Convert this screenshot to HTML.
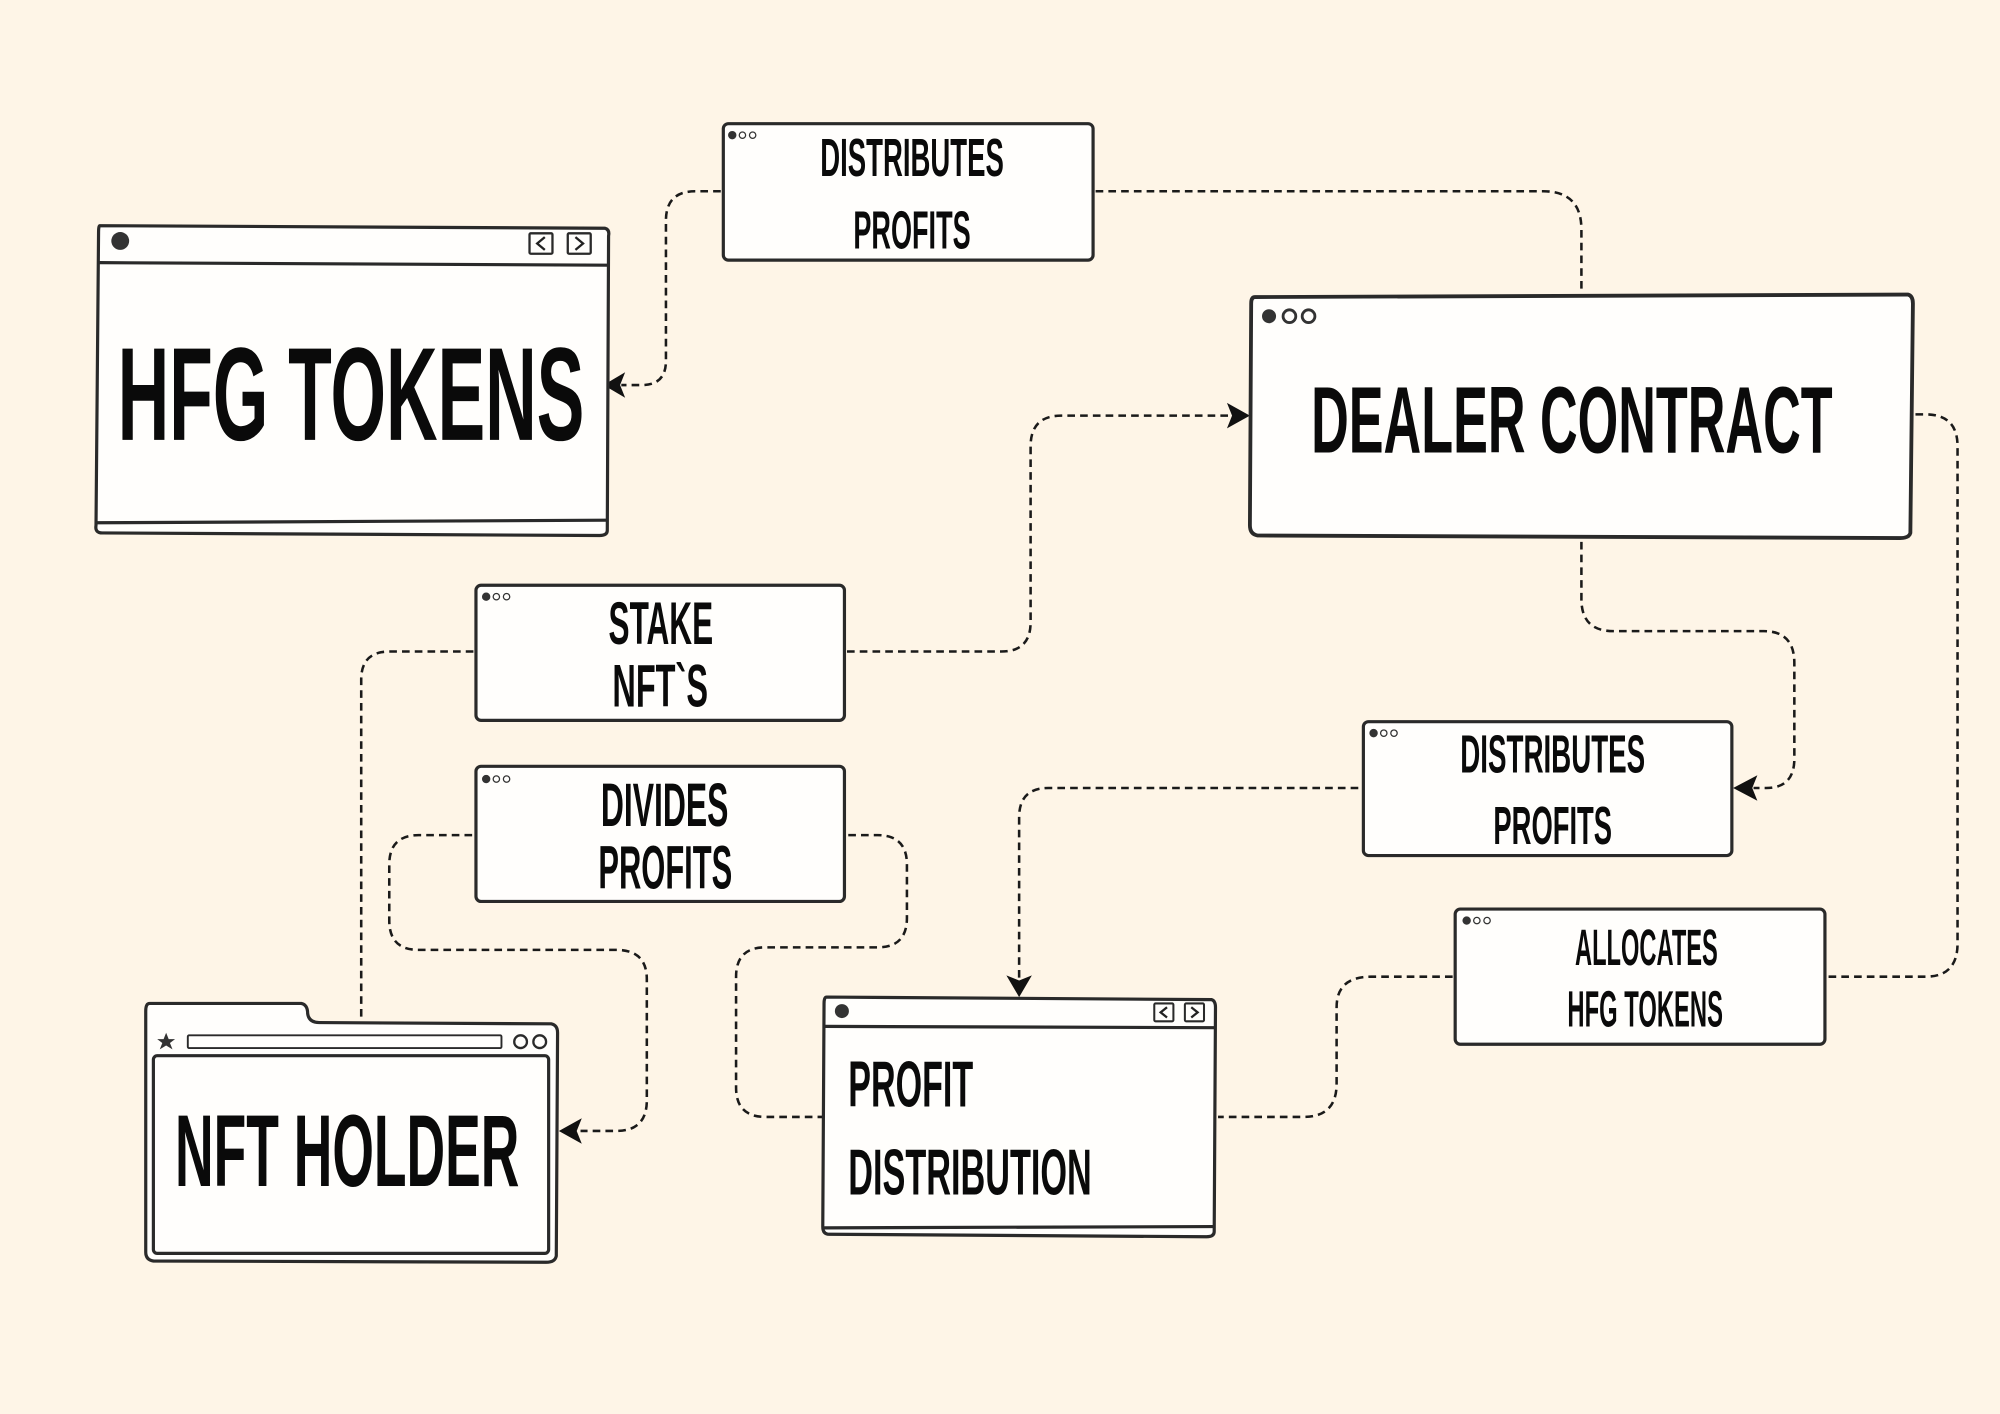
<!DOCTYPE html>
<html><head><meta charset="utf-8"><style>
html,body{margin:0;padding:0;background:#fef5e7;}
svg{display:block}
text{font-family:"Liberation Sans Narrow","Liberation Sans",sans-serif;font-weight:bold;fill:#0a0a0a}
</style></head><body>
<svg width="2000" height="1414" viewBox="0 0 1568 1109" xmlns="http://www.w3.org/2000/svg">
<rect width="1568" height="1109" fill="#fef5e7"/>
<g fill="none" stroke="#1a1a1a" stroke-width="2" stroke-dasharray="6,4">
<path d="M565,150 H545 Q522,150 522,173 V283 Q522,302 503,302 H487"/>
<path d="M859,150 H1210 Q1240,150 1240,180 V228"/>
<path d="M664,511 H785 Q808,511 808,488 V350 Q808,326 832,326 H966"/>
<path d="M371,511 H305 Q283,511 283,533 V801"/>
<path d="M1240,425 V470 Q1240,495 1265,495 H1383 Q1407,495 1407,520 V595 Q1407,618 1385,618 H1375"/>
<path d="M1502,325 H1510 Q1535,325 1535,350 V740 Q1535,766 1510,766 H1433"/>
<path d="M1065,618 H822 Q799,618 799,641 V768"/>
<path d="M1139,766 H1075 Q1048,766 1048,790 V850 Q1048,876 1022,876 H955"/>
<path d="M370,655 H328 Q305,655 305,678 V722 Q305,745 328,745 H483 Q507,745 507,768 V863 Q507,887 483,887 H455"/>
<path d="M665,655 H688 Q711,655 711,678 V720 Q711,743 688,743 H600 Q577,743 577,766 V853 Q577,876 600,876 H645"/>
</g>
<g fill="#111">
<path d="M473,302 L490,292 L486,302 L490,312 Z"/>
<path d="M980,326 L962,316 L966,326 L962,336 Z"/>
<path d="M1359,618 L1378,608 L1374,618 L1378,628 Z"/>
<path d="M799,782 L789,765 L799,769 L809,765 Z"/>
<path d="M438,887 L456,877 L452,887 L456,897 Z"/>
</g>
<g stroke="#2a2a2a" stroke-width="2.5" fill="#fffefc">
<!-- HFG TOKENS -->
<path d="M78,177 L474,179 Q478,180 477,185 L476,416 Q476,420 470,420 L80,418 Q74,418 75,412 L77,182 Q77,177 78,177 Z"/>
<path d="M77,206 L476,208 M76,410 L476,408" fill="none"/>
<!-- DEALER -->
<path d="M984,233 L1496,231 Q1500,232 1500,238 L1498,418 Q1497,422 1490,422 L986,420 Q980,419 980,412 L981,238 Q981,233 984,233 Z" stroke-width="3"/>
<!-- labels -->
<rect x="567" y="97" width="290" height="107" rx="4"/>
<rect x="373" y="459" width="289" height="106" rx="4"/>
<rect x="373" y="601" width="289" height="106" rx="4"/>
<rect x="1069" y="566" width="289" height="105" rx="4"/>
<rect x="1141" y="713" width="290" height="106" rx="4"/>
<!-- NFT holder -->
<path d="M117,787 L236,787 Q241,788 241,795 Q242,802 250,802 L432,803 Q437,804 437,810 L436,985 Q435,990 428,990 L120,989 Q114,988 114,982 L114,793 Q114,787 117,787 Z"/>
<rect x="120" y="828" width="310" height="155" rx="3"/>
<rect x="147" y="812" width="246" height="10" rx="1" stroke-width="1.5"/>
<circle cx="408" cy="817" r="5" stroke-width="1.8"/>
<circle cx="423" cy="817" r="5" stroke-width="1.8"/>
<!-- profit distribution -->
<path d="M648,782 L950,784 Q953,785 953,790 L952,966 Q952,970 946,970 L650,968 Q645,968 645,962 L646,787 Q646,782 648,782 Z"/>
<path d="M646,805 L953,806 M646,963 L952,962" fill="none"/>
<rect x="415" y="183" width="18" height="16" rx="1" stroke-width="1.8"/>
<rect x="445" y="183" width="18" height="16" rx="1" stroke-width="1.8"/>
<rect x="905" y="787" width="15" height="14" rx="1" stroke-width="1.6"/>
<rect x="929" y="787" width="15" height="14" rx="1" stroke-width="1.6"/>
</g>
<g fill="none" stroke="#222" stroke-width="1.8">
<path d="M427,186 L421,191 L427,196 M451,186 L457,191 L451,196"/>
<path d="M915,790 L910,794 L915,798 M934,790 L939,794 L934,798"/>
</g>
<g fill="#333">
<circle cx="94" cy="189" r="7"/>
<circle cx="660" cy="793" r="5.5"/>
<circle cx="995" cy="248" r="5.5"/>
<path d="M130,810 L132,815 L137,815 L133,818 L135,823 L130,820 L125,823 L127,818 L123,815 L128,815 Z"/>
</g>
<g fill="none" stroke="#333" stroke-width="2.2">
<circle cx="1011" cy="248" r="5"/><circle cx="1026" cy="248" r="5"/>
</g>
<g fill="#333" stroke="#333" stroke-width="1">
<circle cx="574" cy="106" r="2.8"/><circle cx="582" cy="106" r="2.5" fill="none"/><circle cx="590" cy="106" r="2.5" fill="none"/>
<circle cx="381" cy="468" r="2.8"/><circle cx="389" cy="468" r="2.5" fill="none"/><circle cx="397" cy="468" r="2.5" fill="none"/>
<circle cx="381" cy="611" r="2.8"/><circle cx="389" cy="611" r="2.5" fill="none"/><circle cx="397" cy="611" r="2.5" fill="none"/>
<circle cx="1077" cy="575" r="2.8"/><circle cx="1085" cy="575" r="2.5" fill="none"/><circle cx="1093" cy="575" r="2.5" fill="none"/>
<circle cx="1150" cy="722" r="2.8"/><circle cx="1158" cy="722" r="2.5" fill="none"/><circle cx="1166" cy="722" r="2.5" fill="none"/>
</g>
<text x="92" y="345" font-size="104" textLength="366" lengthAdjust="spacingAndGlyphs">HFG TOKENS</text>
<text x="1028" y="355" font-size="74" textLength="409" lengthAdjust="spacingAndGlyphs">DEALER CONTRACT</text>
<text x="137" y="930" font-size="80" textLength="270" lengthAdjust="spacingAndGlyphs">NFT HOLDER</text>
<text x="665" y="868" font-size="51" textLength="98" lengthAdjust="spacingAndGlyphs">PROFIT</text>
<text x="665" y="937" font-size="51" textLength="191" lengthAdjust="spacingAndGlyphs">DISTRIBUTION</text>
<text x="643" y="138" font-size="42" textLength="144" lengthAdjust="spacingAndGlyphs">DISTRIBUTES</text>
<text x="669" y="195" font-size="42" textLength="92" lengthAdjust="spacingAndGlyphs">PROFITS</text>
<text x="477" y="505" font-size="47" textLength="82" lengthAdjust="spacingAndGlyphs">STAKE</text>
<text x="480" y="554" font-size="47" textLength="75" lengthAdjust="spacingAndGlyphs">NFT`S</text>
<text x="471" y="648" font-size="48" textLength="100" lengthAdjust="spacingAndGlyphs">DIVIDES</text>
<text x="469" y="697" font-size="48" textLength="105" lengthAdjust="spacingAndGlyphs">PROFITS</text>
<text x="1145" y="606" font-size="42" textLength="145" lengthAdjust="spacingAndGlyphs">DISTRIBUTES</text>
<text x="1171" y="662" font-size="42" textLength="93" lengthAdjust="spacingAndGlyphs">PROFITS</text>
<text x="1235" y="757" font-size="40" textLength="112" lengthAdjust="spacingAndGlyphs">ALLOCATES</text>
<text x="1229" y="805" font-size="40" textLength="122" lengthAdjust="spacingAndGlyphs">HFG TOKENS</text>
</svg>
</body></html>
